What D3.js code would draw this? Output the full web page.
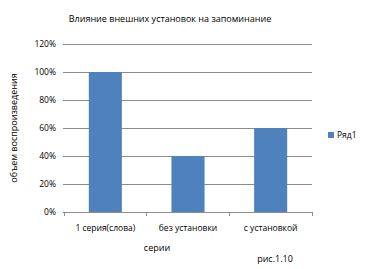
<!DOCTYPE html>
<html>
<head>
<meta charset="utf-8">
<script src="https://cdn.jsdelivr.net/npm/d3@7"></script>
<style>
  body { margin: 0; background: #fff; }
  svg { font-family: "Open Sans", "Liberation Sans", sans-serif; }
</style>
</head>
<body>
<svg id="chart"></svg>
<script>
const categories = ["1 серия(слова)", "без установки", "с установкой"];
const values = [1.0, 0.4, 0.6];
const yTicks = [0, 0.2, 0.4, 0.6, 0.8, 1.0, 1.2];
const seriesName = "Ряд1";

const width = 368, height = 269;
const margin = { top: 44, right: 56, bottom: 57, left: 64 };

const svg = d3.select("#chart")
    .attr("width", width)
    .attr("height", height);

const x = d3.scaleBand()
    .domain(categories)
    .range([margin.left, width - margin.right])
    .paddingInner(0.6)
    .paddingOuter(0.3);

const y = d3.scaleLinear()
    .domain([0, 1.2])
    .range([height - margin.bottom, margin.top]);

const barColor = "#4f81bd";

// gridlines
svg.append("g")
    .selectAll("line")
    .data(yTicks.filter(d => d > 0))
    .join("line")
    .attr("x1", margin.left - 1)
    .attr("x2", width - margin.right)
    .attr("y1", d => y(d))
    .attr("y2", d => y(d))
    .attr("stroke", "#8c8c8c")
    .attr("stroke-width", 1)
    .attr("shape-rendering", "crispEdges");

// y labels
svg.append("g")
    .selectAll("text")
    .data(yTicks)
    .join("text")
    .attr("x", margin.left - 8)
    .attr("y", d => y(d))
    .attr("dy", "0.35em")
    .attr("text-anchor", "end")
    .attr("font-size", 8.5)
    .attr("fill", "#000")
    .text(d3.format(".0%"));

// bars
svg.append("g")
    .selectAll("rect")
    .data(values)
    .join("rect")
    .attr("x", (d, i) => x(categories[i]))
    .attr("width", x.bandwidth())
    .attr("y", d => y(d))
    .attr("height", d => y(0) - y(d))
    .attr("fill", barColor);

// category axis
const y0 = y(0);
svg.append("line")
    .attr("x1", margin.left - 1)
    .attr("x2", width - margin.right)
    .attr("y1", y0)
    .attr("y2", y0)
    .attr("stroke", "#8c8c8c")
    .attr("shape-rendering", "crispEdges");

const plotW = width - margin.right - margin.left;
const boundaries = d3.range(categories.length + 1).map(i => margin.left + i * plotW / categories.length);
svg.append("g")
    .selectAll("line")
    .data(boundaries)
    .join("line")
    .attr("x1", d => d)
    .attr("x2", d => d)
    .attr("y1", y0)
    .attr("y2", y0 + 4)
    .attr("stroke", "#8c8c8c")
    .attr("shape-rendering", "crispEdges");

svg.append("g")
    .selectAll("text")
    .data(categories)
    .join("text")
    .attr("x", d => x(d) + x.bandwidth() / 2)
    .attr("y", y0 + 19)
    .attr("text-anchor", "middle")
    .attr("font-size", 8.5)
    .attr("fill", "#000")
    .text(d => d);

// titles
svg.append("text")
    .attr("x", 170)
    .attr("y", 22)
    .attr("text-anchor", "middle")
    .attr("font-size", 9)
    .attr("fill", "#000")
    .text("Влияние внешних установок на запоминание");

svg.append("text")
    .attr("transform", `translate(17,${(margin.top + y0) / 2}) rotate(-90)`)
    .attr("text-anchor", "middle")
    .attr("font-size", 9)
    .attr("fill", "#000")
    .text("объем воспроизведения");

svg.append("text")
    .attr("x", 157)
    .attr("y", 251)
    .attr("text-anchor", "middle")
    .attr("font-size", 9)
    .attr("fill", "#000")
    .text("серии");

svg.append("text")
    .attr("x", 275)
    .attr("y", 262)
    .attr("text-anchor", "middle")
    .attr("font-size", 9)
    .attr("fill", "#000")
    .text("рис.1.10");

// legend
const legend = svg.append("g").attr("transform", "translate(328,135)");
legend.append("rect")
    .attr("x", 0).attr("y", -3)
    .attr("width", 6).attr("height", 6)
    .attr("fill", barColor);
legend.append("text")
    .attr("x", 9).attr("y", 0)
    .attr("dy", "0.35em")
    .attr("font-size", 8.5)
    .attr("fill", "#000")
    .text(seriesName);
</script>
</body>
</html>
